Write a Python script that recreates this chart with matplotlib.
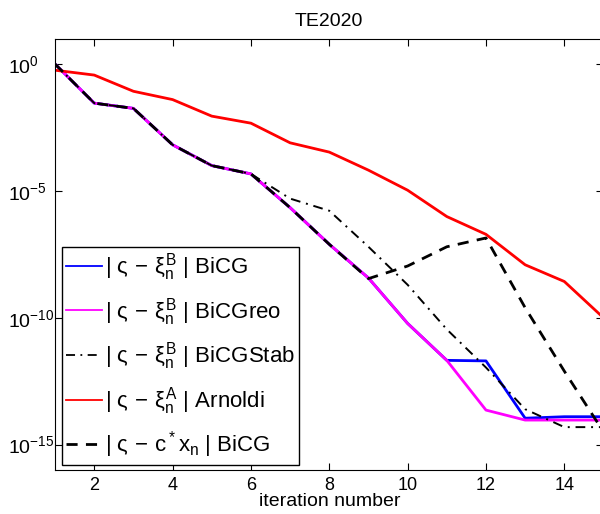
import matplotlib
matplotlib.use("Agg")
import matplotlib.pyplot as plt

plt.rcParams["font.family"] = ["Liberation Sans", "DejaVu Sans"]
plt.rcParams["mathtext.fontset"] = "custom"
plt.rcParams["mathtext.rm"] = "Liberation Sans"
plt.rcParams["mathtext.it"] = "Liberation Sans"
plt.rcParams["mathtext.sf"] = "Liberation Sans"

# iteration numbers
iterations = list(range(1, 16))

# error curves
bicg = [1.0, 2.9e-2, 1.8e-2, 6.6e-4, 1.0e-4, 4.7e-5, 2.2e-6, 7.9e-8, 3.7e-9,
        6.0e-11, 2.1e-12, 2.0e-12, 1.1e-14, 1.26e-14, 1.26e-14]
bicg_reo = [1.0, 2.9e-2, 1.8e-2, 6.6e-4, 1.0e-4, 4.7e-5, 2.2e-6, 7.9e-8, 3.7e-9,
            6.0e-11, 2.1e-12, 2.3e-14, 9.3e-15, 9.3e-15, 9.3e-15]
bicgstab = [1.0, 2.9e-2, 1.8e-2, 6.6e-4, 1.0e-4, 4.7e-5, 5.0e-6, 1.66e-6, 6.3e-8,
            2.0e-9, 3.5e-11, 1.1e-12, 2.5e-14, 4.9e-15, 4.9e-15]
arnoldi = [0.575, 0.37, 8.5e-2, 4.0e-2, 8.9e-3, 4.7e-3, 7.9e-4, 3.4e-4, 6.6e-5,
           1.07e-5, 9.8e-7, 1.95e-7, 1.23e-8, 2.7e-9, 1.0e-10]
bicg_cx = [1.0, 2.9e-2, 1.8e-2, 6.6e-4, 1.0e-4, 4.7e-5, 2.2e-6, 7.9e-8, 3.5e-9,
           1.1e-8, 6.3e-8, 1.4e-7, 2.5e-10, 7.9e-13, 3.2e-15]

labels = [
    r"$|\ \varsigma\, -\, \xi_n^B\ |$ BiCG",
    r"$|\ \varsigma\, -\, \xi_n^B\ |$ BiCGreo",
    r"$|\ \varsigma\, -\, \xi_n^B\ |$ BiCGStab",
    r"$|\ \varsigma\, -\, \xi_n^A\ |$ Arnoldi",
    r"$|\ \varsigma\, -\, c^*x_n\ |$ BiCG",
]

fig = plt.figure(figsize=(6.0, 5.14), dpi=100)
ax = fig.add_axes([0.0918, 0.0856, 0.914, 0.839])

ax.semilogy(iterations, bicg, color="#0000ff", lw=2, label=labels[0])
ax.semilogy(iterations, bicg_reo, color="#ff00ff", lw=2, label=labels[1])
ax.semilogy(iterations, bicgstab, color="black", lw=1.4, dashes=(5, 3, 1, 3),
            label=labels[2])
ax.semilogy(iterations, arnoldi, color="#ff0000", lw=2, label=labels[3])
ax.semilogy(iterations, bicg_cx, color="black", lw=2, dashes=(4, 3),
            label=labels[4])

ax.set_xlim(1, 15)
ax.set_ylim(1e-16, 1e1)
ax.set_xticks([2, 4, 6, 8, 10, 12, 14])
ax.set_yticks([1e-15, 1e-10, 1e-5, 1e0])
ax.minorticks_off()
ax.tick_params(direction="in", top=True, right=True, length=5)
ax.tick_params(axis="x", labelsize=13, pad=5)
# MATLAB lines up the "10" part of every label, so left-align them
ax.tick_params(axis="y", labelsize=14, pad=34)
for lab in ax.get_yticklabels():
    lab.set_horizontalalignment("left")
ax.set_xlabel("iteration number", fontsize=14, labelpad=-1)
ax.set_title("TE2020", fontsize=14, pad=9)

leg = ax.legend(loc="lower left", bbox_to_anchor=(0.012, 0.012), borderaxespad=0,
                fontsize=16, fancybox=False, framealpha=1, edgecolor="black",
                handlelength=1.6, handletextpad=0.15, borderpad=0.2,
                labelspacing=0.57)
leg.get_frame().set_linewidth(1)
for line in leg.get_lines()[:4]:
    line.set_linewidth(1.3)

fig.savefig("out.png", dpi=100)
